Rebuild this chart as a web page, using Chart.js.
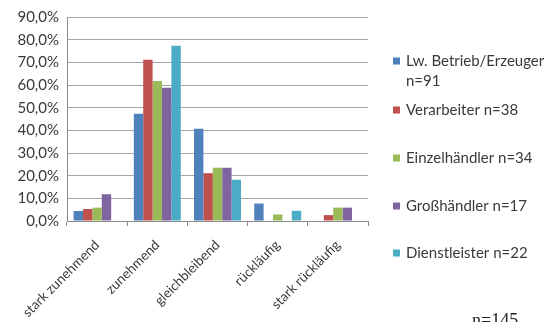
<!DOCTYPE html>
<html>
<head>
<meta charset="utf-8">
<script src="https://cdn.jsdelivr.net/npm/chart.js@4/dist/chart.umd.min.js"></script>
<style>
  html, body { margin: 0; padding: 0; background: #fff; }
  #wrap { position: relative; width: 551px; height: 322px; }
</style>
</head>
<body>
<div id="wrap"><canvas id="c" width="551" height="322"></canvas></div>
<script>
// Entwicklung der Nachfrage nach Akteursgruppe (Anteile in %)
const categories = ['stark zunehmend', 'zunehmend', 'gleichbleibend', 'rückläufig', 'stark rückläufig'];

const erzeuger       = [4.4, 47.3, 40.7, 7.7, 0];
const verarbeiter    = [5.3, 71.1, 21.1, 0, 2.6];
const einzelhaendler = [5.9, 61.8, 23.5, 2.9, 5.9];
const grosshaendler  = [11.8, 58.8, 23.5, 0, 5.9];
const dienstleister  = [0, 77.3, 18.2, 4.5, 0];

const seriesNames = [
  ['Lw. Betrieb/Erzeuger', 'n=91'],
  ['Verarbeiter n=38'],
  ['Einzelhändler n=34'],
  ['Großhändler n=17'],
  ['Dienstleister n=22']
];
const seriesColors = ['#4F81BD', '#C0504D', '#9BBB59', '#8064A2', '#4BACC6'];
const totalLabel = 'n=145';

const yMax = 90;
const yStep = 10;

const FONT = 'Lato, Carlito, "Open Sans", sans-serif';

const values = [erzeuger, verarbeiter, einzelhaendler, grosshaendler, dienstleister];

// Legend drawn at fixed rows on the right-hand side, plus the total sample size
const sideLegend = {
  id: 'sideLegend',
  afterDraw(chart) {
    const ctx = chart.ctx;
    ctx.save();
    ctx.font = '15px ' + FONT;
    ctx.textBaseline = 'middle';
    ctx.textAlign = 'left';
    const rows = [61, 110, 158, 206, 253];
    chart.data.datasets.forEach((ds, i) => {
      const y = rows[i];
      ctx.fillStyle = ds.backgroundColor;
      ctx.fillRect(393, y - 3.5, 7, 7);
      ctx.fillStyle = '#3a3a3a';
      ds.legendLines.forEach((line, j) => {
        ctx.fillText(line, 406, y + j * 20);
      });
    });
    ctx.font = '18px "Liberation Serif", "DejaVu Serif", serif';
    ctx.fillStyle = '#222';
    ctx.textBaseline = 'alphabetic';
    ctx.fillText(totalLabel, 472, 326);
    ctx.restore();
  }
};

new Chart(document.getElementById('c'), {
  type: 'bar',
  data: {
    labels: categories,
    datasets: values.map((v, i) => ({
      label: seriesNames[i].join(' '),
      legendLines: seriesNames[i],
      data: v,
      backgroundColor: seriesColors[i],
      borderWidth: 0,
      categoryPercentage: 0.78,
      barPercentage: 1.0
    }))
  },
  options: {
    responsive: false,
    animation: false,
    devicePixelRatio: 1,
    layout: { padding: { top: 17, right: 183, left: 0, bottom: 0 } },
    plugins: {
      legend: { display: false },
      tooltip: { enabled: false }
    },
    scales: {
      x: {
        offset: true,
        grid: {
          display: true,
          drawOnChartArea: false,
          drawTicks: true,
          tickLength: 5,
          color: '#8c8c8c',
          offset: true
        },
        border: { display: true, color: '#8c8c8c', width: 1 },
        ticks: {
          minRotation: 45,
          maxRotation: 45,
          autoSkip: false,
          color: '#3a3a3a',
          font: { family: FONT, size: 13.5 },
          padding: 11
        },
        afterFit(scale) { scale.height = 101; }
      },
      y: {
        min: 0,
        max: yMax,
        ticks: {
          stepSize: yStep,
          color: '#3a3a3a',
          font: { family: FONT, size: 15 },
          padding: 8,
          callback: (v) => v.toFixed(1).replace('.', ',') + '%'
        },
        grid: {
          color: '#a6a6a6',
          drawTicks: false
        },
        border: { display: true, color: '#8c8c8c', width: 1 },
        afterFit(scale) { scale.width = 67; }
      }
    }
  },
  plugins: [sideLegend]
});
</script>
</body>
</html>
